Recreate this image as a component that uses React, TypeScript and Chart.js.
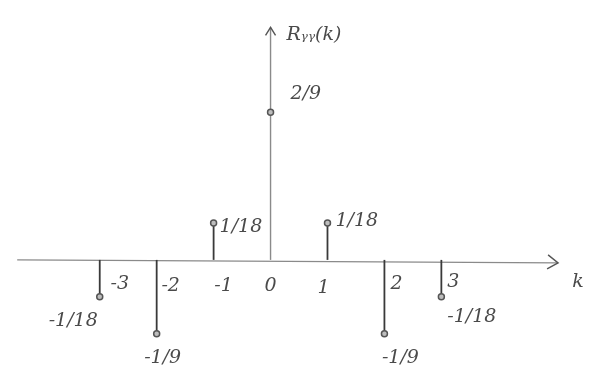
import React, { useEffect, useRef } from "react";
import { Chart, registerables } from "chart.js";

Chart.register(...registerables);

// Autocorrelation sequence R_YY(k) for lags -3..3
const lags = [-3, -2, -1, 0, 1, 2, 3];
const rValues = [-1 / 18, -1 / 9, 1 / 18, 2 / 9, 1 / 18, -1 / 9, -1 / 18];
const valueLabels = ["-1/18", "-1/9", "1/18", "2/9", "1/18", "-1/9", "-1/18"];
const tickLabels = ["-3", "-2", "-1", "0", "1", "2", "3"];
const yAxisTitle = "R\u1D67\u1D67(k)";
const xAxisTitle = "k";

// Placement of the value labels relative to each stem tip (dx, dy, align)
const labelPlacement: [number, number, CanvasTextAlign][] = [
  [-2, 24, "right"],
  [6, 24, "center"],
  [6, 4, "left"],
  [20, -18, "left"],
  [8, -2, "left"],
  [16, 24, "center"],
  [6, 20, "left"],
];
// Tick label offsets from the stem foot
const tickPlacement: [number, number][] = [
  [20, 24],
  [14, 26],
  [10, 26],
  [0, 26],
  [-4, 28],
  [12, 24],
  [12, 22],
];

const INK = "#4a4a4a";
const AXIS = "#8a8a8a";
const FONT = "italic 19px 'DejaVu Serif', serif";

const stemPlugin = {
  id: "stems",
  beforeDatasetsDraw(chart: any) {
    const { ctx, scales } = chart;
    const xs = scales.x;
    const ys = scales.y;
    const y0 = ys.getPixelForValue(0);
    const xLeft = xs.getPixelForValue(-4.45);
    const xRight = xs.getPixelForValue(5.05);
    const yTop = ys.getPixelForValue(0.35);
    const x0 = xs.getPixelForValue(0);

    ctx.save();
    // horizontal axis with arrow
    ctx.strokeStyle = AXIS;
    ctx.lineWidth = 1.4;
    ctx.beginPath();
    ctx.moveTo(xLeft, y0);
    ctx.lineTo(xRight, y0 + 3);
    ctx.stroke();
    ctx.beginPath();
    ctx.moveTo(xRight - 10, y0 - 5);
    ctx.lineTo(xRight, y0 + 3);
    ctx.lineTo(xRight - 11, y0 + 9);
    ctx.strokeStyle = "#555";
    ctx.stroke();

    // vertical axis with arrow
    ctx.strokeStyle = AXIS;
    ctx.beginPath();
    ctx.moveTo(x0, y0);
    ctx.lineTo(x0, yTop);
    ctx.stroke();
    ctx.strokeStyle = "#555";
    ctx.beginPath();
    ctx.moveTo(x0 - 5, yTop + 8);
    ctx.lineTo(x0, yTop);
    ctx.lineTo(x0 + 5, yTop + 8);
    ctx.stroke();

    // stems
    ctx.strokeStyle = "#3a3a3a";
    ctx.lineWidth = 1.8;
    lags.forEach((k, i) => {
      const px = xs.getPixelForValue(k);
      const py = ys.getPixelForValue(rValues[i]);
      if (k === 0) return;
      ctx.beginPath();
      ctx.moveTo(px, y0);
      ctx.lineTo(px, py);
      ctx.stroke();
    });
    ctx.restore();
  },
  afterDatasetsDraw(chart: any) {
    const { ctx, scales } = chart;
    const xs = scales.x;
    const ys = scales.y;
    const y0 = ys.getPixelForValue(0);
    ctx.save();
    ctx.fillStyle = INK;
    ctx.font = FONT;
    ctx.textBaseline = "middle";
    lags.forEach((k, i) => {
      const px = xs.getPixelForValue(k);
      const py = ys.getPixelForValue(rValues[i]);
      const [dx, dy, align] = labelPlacement[i];
      ctx.textAlign = align;
      ctx.fillText(valueLabels[i], px + dx, py + dy);
      const [tx, ty] = tickPlacement[i];
      ctx.textAlign = "center";
      ctx.fillText(tickLabels[i], px + tx, y0 + ty);
    });
    // axis titles
    ctx.textAlign = "left";
    ctx.fillText(yAxisTitle, xs.getPixelForValue(0.28), ys.getPixelForValue(0.338));
    ctx.fillText(xAxisTitle, xs.getPixelForValue(5.3), y0 + 22);
    ctx.restore();
  },
};

export default function App() {
  const canvasRef = useRef<HTMLCanvasElement | null>(null);

  useEffect(() => {
    if (!canvasRef.current) return;
    const chart = new Chart(canvasRef.current, {
      type: "scatter",
      data: {
        datasets: [
          {
            data: lags.map((k, i) => ({ x: k, y: rValues[i] })),
            pointRadius: 3,
            pointBorderWidth: 1.5,
            pointBorderColor: "#555",
            pointBackgroundColor: "#bdbdbd",
          },
        ],
      },
      options: {
        responsive: false,
        animation: false,
        layout: { padding: 0 },
        plugins: {
          legend: { display: false },
          tooltip: { enabled: false },
        },
        scales: {
          x: { type: "linear", min: -4.655, max: 5.672, display: false },
          y: { type: "linear", min: -0.165, max: 0.383, display: false },
        },
      },
      plugins: [stemPlugin],
    });
    return () => chart.destroy();
  }, []);

  return (
    <div
      style={{
        position: "fixed",
        left: 0,
        top: 0,
        width: 599,
        height: 375,
        background: "#fff",
      }}
    >
      <canvas ref={canvasRef} width={599} height={375} />
    </div>
  );
}
